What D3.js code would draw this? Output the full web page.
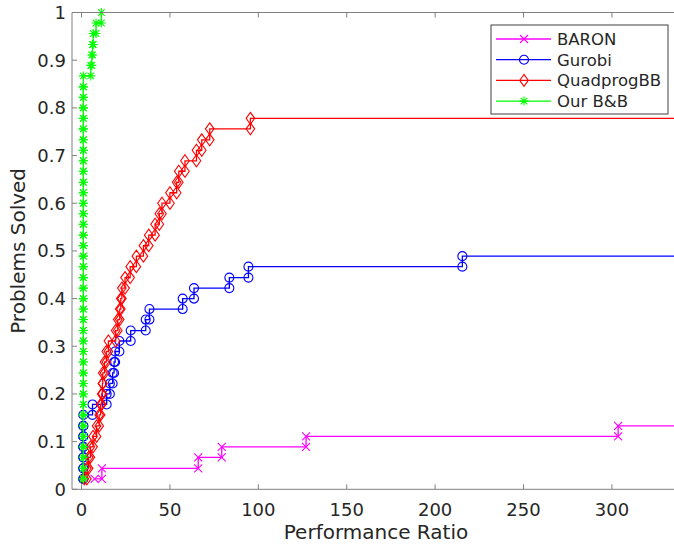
<!DOCTYPE html>
<html lang="en">
<head>
<meta charset="utf-8">
<title>Performance profile</title>
<script src="https://cdn.jsdelivr.net/npm/d3@7"></script>
<style>
  body { margin: 0; background: #fff; }
  text { font-family: "DejaVu Sans", sans-serif; fill: #262626; }
</style>
</head>
<body>
<script>
// ---- data ----
var solvers = ["BARON", "Gurobi", "QuadprogBB", "Our B&B"];
var colors = ["#ff00ff", "#0000ff", "#ff0000", "#00ff00"];
var markers = ["x", "o", "d", "*"];

// sorted performance ratios per solver (1000 = beyond the x range)
var baronRatio = [7.4, 11.5, 66, 79.3, 127, 303.5, 1000];
var baronSolved = [0.022, 0.044, 0.067, 0.089, 0.111, 0.133, 0.156];

var gurobiRatio = [1, 1, 1, 1, 1, 1, 1, 6.2, 14.2, 16, 17.6, 18.4, 19, 21.4, 27.8,
  36.3, 38.4, 57.2, 63.6, 83.6, 94.4, 215.4, 1000];
var gurobiSolved = [0.022, 0.044, 0.067, 0.089, 0.111, 0.133, 0.156, 0.178, 0.2, 0.222,
  0.244, 0.267, 0.289, 0.311, 0.333, 0.356, 0.378, 0.4, 0.422, 0.444, 0.467, 0.489, 0.511];

var quadRatio = [1.5, 3, 4, 5, 6.5, 8.5, 10, 10.8, 11.4, 11.8, 12, 13, 14, 15.2, 19.3,
  20.5, 21.6, 22.2, 22.8, 24.6, 27.5, 31, 35, 38, 41.6, 44, 45.5, 50, 53.8, 55, 58.5,
  65, 68, 72.5, 95.5, 1000];
var quadSolved = [0.022, 0.044, 0.067, 0.089, 0.111, 0.133, 0.156, 0.178, 0.2, 0.222,
  0.244, 0.267, 0.289, 0.311, 0.333, 0.356, 0.378, 0.4, 0.422, 0.444, 0.467, 0.489,
  0.511, 0.533, 0.556, 0.578, 0.6, 0.622, 0.644, 0.667, 0.689, 0.711, 0.733, 0.756,
  0.778, 0.8];

var oursRatio = [1, 1, 1, 1, 1, 1, 1, 1, 1, 1, 1, 1, 1, 1, 1, 1, 1, 1, 1, 1, 1, 1, 1,
  1, 1, 1, 1, 1, 1, 1, 1, 1, 1, 1, 1, 1, 1, 1, 1, 5.2, 5.8, 6.2, 6.6, 8.2, 11.2];
var oursSolved = [0.022, 0.044, 0.067, 0.089, 0.111, 0.133, 0.156, 0.178, 0.2, 0.222,
  0.244, 0.267, 0.289, 0.311, 0.333, 0.356, 0.378, 0.4, 0.422, 0.444, 0.467, 0.489,
  0.511, 0.533, 0.556, 0.578, 0.6, 0.622, 0.644, 0.667, 0.689, 0.711, 0.733, 0.756,
  0.778, 0.8, 0.822, 0.844, 0.867, 0.889, 0.911, 0.933, 0.956, 0.978, 1];

var xTicks = [0, 50, 100, 150, 200, 250, 300];
var yTicks = [0, 0.1, 0.2, 0.3, 0.4, 0.5, 0.6, 0.7, 0.8, 0.9, 1];

var series = [
  { ratio: baronRatio, solved: baronSolved },
  { ratio: gurobiRatio, solved: gurobiSolved },
  { ratio: quadRatio, solved: quadSolved },
  { ratio: oursRatio, solved: oursSolved }
];

// ---- layout ----
var w = 674, h = 547;
var axL = 72, axR = 680, axT = 12.5, axB = 489.3;

var svg = d3.select("body").append("svg")
  .attr("width", w).attr("height", h);

var x = d3.scaleLinear().domain([-5.4, 338.5]).range([axL, axR]);
var y = d3.scaleLinear().domain([0, 1]).range([axB, axT]);

svg.append("defs").append("clipPath").attr("id", "plotclip")
  .append("rect").attr("x", axL).attr("y", axT - 6)
  .attr("width", axR - axL).attr("height", axB - axT + 6);

// stairs vertices like matlab's stairs()
function stairs(s) {
  var pts = [];
  for (var i = 0; i < s.ratio.length; i++) {
    if (i > 0) pts.push([s.ratio[i], s.solved[i - 1]]);
    pts.push([s.ratio[i], s.solved[i]]);
  }
  return pts;
}

function drawMarker(g, type, color) {
  if (type == "x") {
    g.append("path").attr("d", "M-4,-4L4,4M-4,4L4,-4");
  } else if (type == "o") {
    g.append("circle").attr("r", 4.5);
  } else if (type == "d") {
    g.append("path").attr("d", "M0,-6L4.3,0L0,6L-4.3,0Z");
  } else {
    g.append("path").attr("d", "M-4.5,0L4.5,0M0,-4.5L0,4.5M-3.3,-3.3L3.3,3.3M-3.3,3.3L3.3,-3.3");
  }
  g.attr("fill", "none").attr("stroke", color).attr("stroke-width", 1.1);
}

var lineGen = d3.line()
  .x(function(d) { return x(d[0]); })
  .y(function(d) { return y(d[1]); });

var plot = svg.append("g").attr("clip-path", "url(#plotclip)");

series.forEach(function(s, k) {
  var pts = stairs(s);
  plot.append("path")
    .attr("d", lineGen(pts))
    .attr("fill", "none")
    .attr("stroke", colors[k])
    .attr("stroke-width", 1.3);
  plot.selectAll(null)
    .data(pts)
    .enter()
    .append("g")
    .attr("transform", function(d) { return "translate(" + x(d[0]) + "," + y(d[1]) + ")"; })
    .each(function() { drawMarker(d3.select(this), markers[k], colors[k]); });
});

// ---- axes box ----
var axisColor = "#808080";
svg.append("line").attr("x1", axL).attr("x2", axR).attr("y1", axB).attr("y2", axB)
  .attr("stroke", axisColor);
svg.append("line").attr("x1", axL).attr("x2", axR).attr("y1", axT).attr("y2", axT)
  .attr("stroke", axisColor);
svg.append("line").attr("x1", axL).attr("x2", axL).attr("y1", axT).attr("y2", axB)
  .attr("stroke", axisColor);

// x ticks (inside, bottom and top)
svg.selectAll(".xt").data(xTicks).enter().append("path")
  .attr("d", function(d) {
    return "M" + x(d) + "," + axB + "V" + (axB - 5) + "M" + x(d) + "," + axT + "V" + (axT + 5);
  })
  .attr("stroke", axisColor);
svg.selectAll(".xl").data(xTicks).enter().append("text")
  .attr("x", function(d) { return x(d); })
  .attr("y", axB + 27)
  .attr("text-anchor", "middle")
  .attr("font-size", "18px")
  .text(function(d) { return d; });

// y ticks
svg.selectAll(".yt").data(yTicks).enter().append("path")
  .attr("d", function(d) { return "M" + axL + "," + y(d) + "H" + (axL + 5); })
  .attr("stroke", axisColor);
svg.selectAll(".yl").data(yTicks).enter().append("text")
  .attr("x", axL - 6)
  .attr("y", function(d) { return y(d) + 6.5; })
  .attr("text-anchor", "end")
  .attr("font-size", "18px")
  .text(function(d) { return d; });

// axis titles
svg.append("text")
  .attr("x", (axL + axR) / 2).attr("y", 539)
  .attr("text-anchor", "middle").attr("font-size", "20px")
  .text("Performance Ratio");
svg.append("text")
  .attr("transform", "translate(25," + ((axT + axB) / 2) + ") rotate(-90)")
  .attr("text-anchor", "middle").attr("font-size", "20px")
  .text("Problems Solved");

// ---- legend ----
var lg = svg.append("g");
lg.append("rect").attr("x", 491).attr("y", 25).attr("width", 177).attr("height", 89)
  .attr("fill", "#fff").attr("stroke", "#404040").attr("stroke-width", 1);
solvers.forEach(function(name, k) {
  var ly = 39 + k * 20.7;
  lg.append("line").attr("x1", 496).attr("x2", 551).attr("y1", ly).attr("y2", ly)
    .attr("stroke", colors[k]).attr("stroke-width", 1.3);
  var mg = lg.append("g").attr("transform", "translate(524," + ly + ")");
  drawMarker(mg, markers[k], colors[k]);
  lg.append("text").attr("x", 557).attr("y", ly + 6)
    .attr("font-size", "16.5px").text(name);
});
</script>
</body>
</html>
